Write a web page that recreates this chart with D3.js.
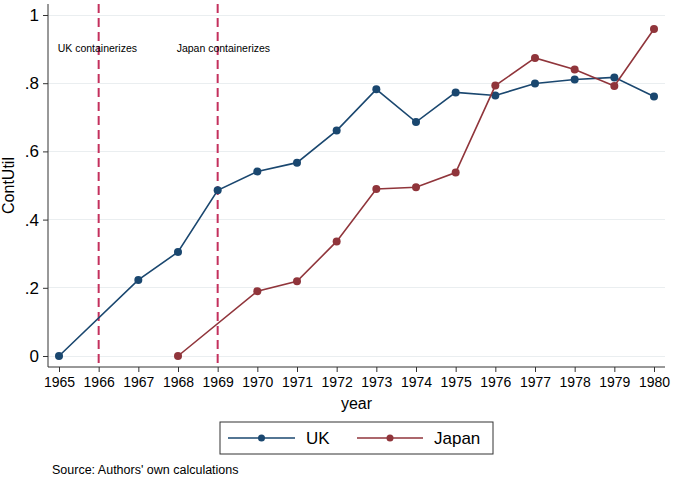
<!DOCTYPE html>
<html>
<head>
<meta charset="utf-8">
<script src="https://cdn.jsdelivr.net/npm/d3@7"></script>
<style>
  body { margin: 0; background: #fff; }
  text { font-family: "Liberation Sans", Arial, sans-serif; fill: #000; }
</style>
</head>
<body>
<div id="chart"></div>
<script>
const years = [1965, 1966, 1967, 1968, 1969, 1970, 1971, 1972, 1973, 1974, 1975, 1976, 1977, 1978, 1979, 1980];
const ukValues = [0, null, 0.223, 0.305, 0.486, 0.541, 0.567, 0.661, 0.782, 0.686, 0.773, 0.764, 0.799, 0.811, 0.817, 0.761];
const japanValues = [null, null, null, 0, null, 0.19, 0.219, 0.336, 0.49, 0.495, 0.538, 0.793, 0.874, 0.840, 0.792, 0.959];
const yTicks = [0, 0.2, 0.4, 0.6, 0.8, 1];
const yTickLabels = ["0", ".2", ".4", ".6", ".8", "1"];
const events = [{ year: 1966, label: "UK containerizes" }, { year: 1969, label: "Japan containerizes" }];
const seriesNames = ["UK", "Japan"];

const W = 676, H = 478;
const colors = { UK: "#1a476f", Japan: "#90353b" };

const svg = d3.select("#chart")
    .append("svg")
    .attr("width", W)
    .attr("height", H);

// scales
const x = d3.scaleLinear()
    .domain([1965, 1980])
    .range([59, 654]);
const y = d3.scaleLinear()
    .domain([0, 1])
    .range([356, 15]);

const plotLeft = 48, plotRight = 665, plotBottom = 367, plotTop = 4;

// gridlines
svg.append("g")
    .selectAll("line")
    .data(yTicks)
    .enter()
    .append("line")
    .attr("x1", plotLeft)
    .attr("x2", plotRight)
    .attr("y1", d => y(d))
    .attr("y2", d => y(d))
    .style("stroke", "#eaeef0")
    .style("stroke-width", 1)
    .style("shape-rendering", "crispEdges");

// Y axis
const yAxis = svg.append("g")
    .attr("transform", "translate(" + plotLeft + ",0)")
    .call(d3.axisLeft(y)
        .tickValues(yTicks)
        .tickSize(5)
        .tickPadding(4)
        .tickFormat((d, i) => yTickLabels[i]));
yAxis.select(".domain").attr("d", "M0," + plotTop + "V" + plotBottom).style("stroke", "#333");
yAxis.selectAll(".tick line").style("stroke", "#333");
yAxis.selectAll(".tick text")
    .style("font-size", "17px")
    .style("font-family", "'Liberation Sans', Arial, sans-serif");

// X axis
const xAxis = svg.append("g")
    .attr("transform", "translate(0," + plotBottom + ")")
    .call(d3.axisBottom(x)
        .tickValues(years)
        .tickSize(5)
        .tickPadding(5)
        .tickFormat(d3.format("d")));
xAxis.select(".domain").attr("d", "M" + plotLeft + ",0H" + plotRight).style("stroke", "#333");
xAxis.selectAll(".tick line").style("stroke", "#333");
xAxis.selectAll(".tick text")
    .style("font-size", "14px")
    .style("font-family", "'Liberation Sans', Arial, sans-serif");

// event lines
svg.append("g")
    .selectAll("line")
    .data(events)
    .enter()
    .append("line")
    .attr("x1", d => x(d.year))
    .attr("x2", d => x(d.year))
    .attr("y1", plotTop)
    .attr("y2", plotBottom)
    .style("stroke", "#c4305d")
    .style("stroke-width", 2)
    .style("stroke-dasharray", "9,5");

svg.append("g")
    .selectAll("text")
    .data(events)
    .enter()
    .append("text")
    .attr("x", d => x(d.year) - 41)
    .attr("y", 52)
    .style("font-size", "10.5px")
    .text(d => d.label);

// series
const series = [
    { name: "UK", values: ukValues },
    { name: "Japan", values: japanValues }
];

const line = d3.line()
    .x(d => x(d.year))
    .y(d => y(d.v));

series.forEach(s => {
    const pts = years.map((yr, i) => ({ year: yr, v: s.values[i] })).filter(d => d.v !== null);
    svg.append("path")
        .datum(pts)
        .attr("d", line)
        .style("fill", "none")
        .style("stroke", colors[s.name])
        .style("stroke-width", 1.6);
    svg.append("g")
        .selectAll("circle")
        .data(pts)
        .enter()
        .append("circle")
        .attr("cx", d => x(d.year))
        .attr("cy", d => y(d.v))
        .attr("r", 4)
        .style("fill", colors[s.name]);
});

// axis titles
svg.append("text")
    .attr("text-anchor", "middle")
    .attr("x", (plotLeft + plotRight) / 2)
    .attr("y", 409)
    .style("font-size", "16px")
    .text("year");

svg.append("text")
    .attr("text-anchor", "middle")
    .attr("transform", "rotate(-90)")
    .attr("x", -y(0.5))
    .attr("y", 14)
    .style("font-size", "16px")
    .text("ContUtil");

// legend
svg.append("rect")
    .attr("x", 220)
    .attr("y", 422)
    .attr("width", 273)
    .attr("height", 32)
    .style("fill", "#fff")
    .style("stroke", "#333")
    .style("stroke-width", 1);

const legendPos = [{ x1: 228, x2: 295, tx: 306 }, { x1: 357, x2: 423, tx: 434 }];
const legend = svg.append("g")
    .selectAll("g")
    .data(seriesNames)
    .enter()
    .append("g");
legend.append("line")
    .attr("x1", (d, i) => legendPos[i].x1)
    .attr("x2", (d, i) => legendPos[i].x2)
    .attr("y1", 438)
    .attr("y2", 438)
    .style("stroke", d => colors[d])
    .style("stroke-width", 1.6);
legend.append("circle")
    .attr("cx", (d, i) => (legendPos[i].x1 + legendPos[i].x2) / 2)
    .attr("cy", 438)
    .attr("r", 3.5)
    .style("fill", d => colors[d]);
legend.append("text")
    .attr("x", (d, i) => legendPos[i].tx)
    .attr("y", 444)
    .style("font-size", "17px")
    .text(d => d);

// note
svg.append("text")
    .attr("x", 52)
    .attr("y", 474)
    .style("font-size", "12.5px")
    .text("Source: Authors' own calculations");
</script>
</body>
</html>
